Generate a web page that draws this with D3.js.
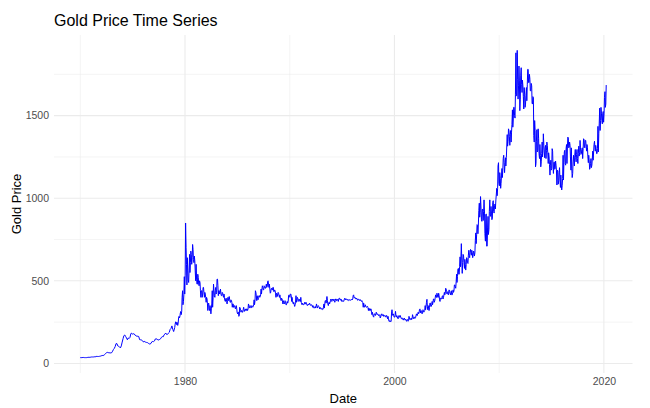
<!DOCTYPE html>
<html lang="en">
<head>
  <meta charset="UTF-8">
  <title>Gold Price Time Series</title>
  <style>
    body {
      margin: 0;
      background-color: #fff;
      font-family: 'Liberation Sans', Arial, sans-serif;
    }
    .grid-major { stroke: #ebebeb; stroke-width: 1.07px; }
    .grid-minor { stroke: #ebebeb; stroke-width: 0.55px; }
    .tick-label { font-size: 10.5px; fill: #4d4d4d; }
    .axis-title { font-size: 13px; fill: #000; }
    .title { font-size: 16px; fill: #000; }
    .price { fill: none; stroke: blue; stroke-width: 1px; stroke-linejoin: round; }
  </style>
  <script src="https://d3js.org/d3.v7.min.js"></script>
</head>
<body>
<svg width="650" height="408"></svg>
<script>
  // monthly prices 1970-01 .. 1978-12 (one value per month)
  const earlyStart = [1970, 0];
  const earlyPrice = [
    35, 35, 35, 36, 36, 35, 35, 35, 36, 37, 37, 37,
    38, 39, 39, 39, 40, 40, 41, 43, 42, 42, 43, 44,
    46, 48, 48, 49, 54, 59, 65, 67, 65, 65, 63, 64,
    65, 74, 84, 91, 102, 120, 120, 106, 103, 100, 94, 106,
    129, 150, 168, 172, 163, 154, 143, 154, 151, 158, 181, 183,
    176, 180, 178, 170, 167, 164, 165, 163, 144, 143, 142, 139,
    131, 131, 133, 128, 127, 126, 122, 118, 118, 121, 131, 133,
    132, 136, 148, 149, 147, 141, 143, 145, 149, 158, 162, 161,
    173, 178, 184, 175, 176, 183, 188, 206, 212, 227, 206, 193
  ];

  // daily data from 1979 on, kept as monthly low / high, 1979-01 .. 2020-03
  const dailyStart = [1979, 0];
  const monthLow = [
    218, 240, 235, 230, 245, 275, 285, 295, 315, 355, 375, 420,
    530, 600, 475, 505, 490, 550, 610, 600, 640, 630, 610, 560,
    500, 480, 480, 480, 470, 440, 400, 400, 420, 430, 400, 400,
    370, 360, 320, 330, 320, 300, 330, 340, 400, 410, 400, 420,
    430, 470, 410, 420, 430, 410, 410, 410, 400, 380, 375, 375,
    360, 380, 390, 370, 370, 370, 340, 340, 340, 330, 335, 310,
    300, 285, 290, 320, 310, 310, 310, 325, 315, 320, 320, 320,
    330, 335, 340, 335, 340, 340, 345, 355, 380, 410, 380, 385,
    400, 400, 405, 420, 450, 445, 445, 455, 455, 460, 465, 480,
    460, 425, 430, 445, 445, 435, 435, 425, 400, 405, 420, 410,
    400, 385, 380, 380, 360, 360, 370, 355, 355, 365, 375, 405,
    400, 410, 375, 365, 360, 345, 355, 370, 385, 375, 380, 375,
    375, 360, 355, 355, 355, 360, 360, 355, 350, 355, 355, 355,
    350, 350, 340, 335, 335, 335, 345, 335, 345, 340, 330, 330,
    328, 326, 328, 335, 360, 365, 385, 360, 350, 360, 370, 380,
    375, 380, 380, 370, 380, 380, 380, 375, 390, 385, 383, 375,
    375, 375, 380, 390, 385, 385, 383, 380, 382, 382, 383, 385,
    390, 400, 395, 390, 390, 383, 382, 385, 380, 378, 375, 368,
    340, 340, 345, 340, 340, 338, 320, 320, 320, 310, 295, 285,
    280, 295, 290, 300, 295, 290, 288, 275, 280, 290, 290, 285,
    285, 285, 280, 280, 270, 257, 253, 252, 255, 300, 290, 280,
    280, 290, 280, 275, 270, 280, 280, 272, 270, 265, 262, 268,
    262, 255, 257, 255, 260, 265, 265, 265, 270, 275, 270, 273,
    278, 290, 290, 300, 305, 318, 305, 300, 310, 310, 315, 325,
    345, 345, 325, 320, 340, 345, 345, 355, 370, 370, 380, 400,
    400, 400, 400, 385, 375, 390, 390, 390, 400, 415, 425, 435,
    420, 415, 425, 425, 415, 415, 415, 430, 440, 465, 455, 490,
    525, 540, 540, 585, 640, 545, 610, 610, 575, 565, 600, 610,
    605, 650, 640, 670, 655, 640, 655, 650, 670, 725, 780, 785,
    850, 885, 915, 870, 860, 865, 920, 785, 740, 710, 710, 780,
    810, 900, 890, 870, 880, 920, 910, 935, 990, 1015, 1060, 1090,
    1075, 1060, 1090, 1125, 1170, 1215, 1155, 1195, 1245, 1315, 1345, 1375,
    1320, 1340, 1400, 1430, 1480, 1500, 1485, 1620, 1620, 1600, 1680, 1530,
    1600, 1690, 1640, 1615, 1540, 1550, 1570, 1590, 1690, 1700, 1700, 1650,
    1650, 1575, 1570, 1380, 1340, 1190, 1210, 1280, 1290, 1270, 1240, 1190,
    1220, 1250, 1290, 1280, 1245, 1240, 1290, 1275, 1210, 1205, 1140, 1170,
    1180, 1195, 1150, 1175, 1180, 1165, 1080, 1085, 1105, 1110, 1065, 1050,
    1075, 1110, 1215, 1210, 1200, 1210, 1310, 1305, 1310, 1250, 1170, 1125,
    1150, 1215, 1195, 1245, 1220, 1240, 1210, 1255, 1275, 1265, 1270, 1240,
    1300, 1310, 1305, 1315, 1285, 1250, 1215, 1175, 1185, 1185, 1200, 1230,
    1280, 1305, 1285, 1270, 1270, 1280, 1390, 1410, 1470, 1470, 1450, 1460,
    1515, 1550, 1570
  ];
  const monthHigh = [
    237, 252, 250, 245, 275, 285, 305, 315, 400, 440, 415, 525,
    850, 700, 640, 560, 560, 660, 680, 660, 720, 690, 650, 620,
    600, 510, 540, 520, 500, 490, 440, 440, 460, 460, 430, 420,
    400, 390, 360, 365, 350, 330, 360, 440, 480, 440, 440, 460,
    510, 510, 440, 440, 450, 420, 430, 425, 420, 400, 390, 395,
    380, 400, 405, 385, 385, 380, 360, 360, 350, 345, 350, 335,
    310, 310, 340, 335, 320, 320, 325, 340, 325, 330, 330, 330,
    360, 350, 350, 345, 350, 345, 355, 385, 440, 430, 410, 395,
    410, 410, 415, 450, 470, 460, 470, 465, 465, 480, 495, 500,
    480, 450, 450, 455, 460, 460, 445, 440, 425, 420, 430, 425,
    415, 395, 395, 390, 380, 370, 380, 375, 365, 375, 410, 415,
    420, 420, 400, 380, 370, 355, 370, 410, 400, 395, 390, 385,
    400, 370, 365, 360, 360, 370, 370, 360, 355, 360, 365, 360,
    355, 355, 350, 340, 340, 345, 360, 345, 350, 345, 340, 335,
    333, 332, 340, 360, 380, 380, 405, 380, 365, 370, 380, 390,
    390, 385, 390, 380, 390, 390, 388, 385, 395, 395, 390, 385,
    380, 380, 390, 395, 390, 390, 388, 385, 386, 385, 387, 390,
    410, 415, 400, 395, 395, 390, 388, 390, 385, 385, 380, 375,
    365, 350, 355, 345, 345, 345, 335, 330, 330, 330, 310, 295,
    300, 300, 300, 310, 300, 298, 295, 290, 295, 300, 297, 295,
    290, 290, 290, 290, 285, 270, 260, 258, 305, 325, 300, 290,
    290, 315, 290, 285, 280, 290, 290, 280, 276, 273, 270, 275,
    268, 265, 265, 265, 285, 275, 270, 275, 295, 285, 280, 280,
    290, 300, 300, 310, 325, 330, 320, 315, 325, 320, 320, 350,
    370, 388, 350, 335, 365, 365, 355, 375, 390, 390, 397, 415,
    425, 415, 425, 410, 395, 395, 405, 410, 415, 430, 455, 450,
    430, 435, 445, 435, 430, 440, 430, 445, 475, 475, 495, 540,
    570, 575, 585, 645, 725, 620, 660, 650, 630, 600, 640, 635,
    655, 685, 670, 690, 685, 670, 680, 675, 745, 790, 840, 835,
    925, 970, 1010, 940, 930, 935, 990, 910, 900, 905, 820, 890,
    920, 990, 950, 910, 975, 985, 955, 965, 1020, 1060, 1195, 1215,
    1155, 1120, 1135, 1180, 1240, 1260, 1205, 1245, 1310, 1385, 1420, 1410,
    1385, 1410, 1445, 1535, 1550, 1550, 1630, 1880, 1895, 1720, 1800, 1710,
    1745, 1790, 1715, 1680, 1670, 1630, 1620, 1670, 1780, 1780, 1750, 1720,
    1695, 1680, 1615, 1610, 1470, 1410, 1345, 1415, 1420, 1360, 1325, 1260,
    1270, 1340, 1390, 1320, 1305, 1320, 1340, 1320, 1275, 1250, 1200, 1230,
    1300, 1285, 1215, 1220, 1225, 1200, 1170, 1165, 1155, 1185, 1140, 1080,
    1120, 1260, 1280, 1290, 1300, 1325, 1370, 1365, 1340, 1320, 1305, 1180,
    1220, 1260, 1260, 1295, 1265, 1295, 1270, 1315, 1350, 1305, 1295, 1305,
    1360, 1355, 1350, 1350, 1325, 1305, 1260, 1225, 1210, 1240, 1235, 1285,
    1325, 1345, 1320, 1300, 1300, 1435, 1450, 1545, 1550, 1515, 1510, 1525,
    1610, 1645, 1685
  ];

  const xBreaks = [1980, 2000, 2020];
  const xMinor = [1970, 1990, 2010];
  const yBreaks = [0, 500, 1000, 1500];
  const yMinor = [250, 750, 1250, 1750];

  // build the series
  const series = [];
  earlyPrice.forEach((v, i) => {
    series.push({ date: new Date(earlyStart[0], earlyStart[1] + i, 1), price: v });
  });
  monthLow.forEach((lo, i) => {
    const hi = monthHigh[i];
    const a = new Date(dailyStart[0], dailyStart[1] + i, 8);
    const b = new Date(dailyStart[0], dailyStart[1] + i, 22);
    if (i % 2 === 0) {
      series.push({ date: a, price: lo }, { date: b, price: hi });
    } else {
      series.push({ date: a, price: hi }, { date: b, price: lo });
    }
  });

  const svg = d3.select("svg");
  const panel = { left: 54, right: 632.5, top: 35, bottom: 373 };

  // ggplot style 5% expansion
  const xExt = d3.extent(series, d => d.date);
  const xPad = (xExt[1] - xExt[0]) * 0.05;
  const x = d3.scaleTime()
          .domain([new Date(+xExt[0] - xPad), new Date(+xExt[1] + xPad)])
          .range([panel.left, panel.right]);

  const yExt = d3.extent(series, d => d.price);
  const yPad = (yExt[1] - yExt[0]) * 0.05;
  const y = d3.scaleLinear()
          .domain([yExt[0] - yPad, yExt[1] + yPad])
          .range([panel.bottom, panel.top]);

  const yr = v => new Date(v, 0, 1);

  const grid = svg.append("g");
  grid.selectAll(".gx-minor").data(xMinor).enter().append("line")
          .attr("class", "grid-minor")
          .attr("x1", d => x(yr(d))).attr("x2", d => x(yr(d)))
          .attr("y1", panel.top).attr("y2", panel.bottom);
  grid.selectAll(".gy-minor").data(yMinor).enter().append("line")
          .attr("class", "grid-minor")
          .attr("x1", panel.left).attr("x2", panel.right)
          .attr("y1", d => y(d)).attr("y2", d => y(d));
  grid.selectAll(".gx-major").data(xBreaks).enter().append("line")
          .attr("class", "grid-major")
          .attr("x1", d => x(yr(d))).attr("x2", d => x(yr(d)))
          .attr("y1", panel.top).attr("y2", panel.bottom);
  grid.selectAll(".gy-major").data(yBreaks).enter().append("line")
          .attr("class", "grid-major")
          .attr("x1", panel.left).attr("x2", panel.right)
          .attr("y1", d => y(d)).attr("y2", d => y(d));

  // price line
  const line = d3.line()
          .x(d => x(d.date))
          .y(d => y(d.price));

  svg.append("path")
          .datum(series)
          .attr("class", "price")
          .attr("d", line);

  // axes (labels only, no ticks or domain line, like theme_minimal)
  const xAxis = svg.append("g")
          .attr("transform", `translate(0,${panel.bottom})`)
          .call(d3.axisBottom(x).tickValues(xBreaks.map(yr)).tickSize(0).tickPadding(5)
                  .tickFormat(d3.timeFormat("%Y")));
  xAxis.select(".domain").remove();
  xAxis.selectAll("text").attr("class", "tick-label").attr("fill", null)
          .attr("font-family", null).attr("font-size", null);

  const yAxis = svg.append("g")
          .attr("transform", `translate(${panel.left},0)`)
          .call(d3.axisLeft(y).tickValues(yBreaks).tickSize(0).tickPadding(5)
                  .tickFormat(d3.format("d")));
  yAxis.select(".domain").remove();
  yAxis.selectAll("text").attr("class", "tick-label").attr("fill", null)
          .attr("font-family", null).attr("font-size", null);
  svg.selectAll(".tick-label").style("font-family", "'Liberation Sans', Arial, sans-serif");

  svg.append("text")
          .attr("class", "title")
          .attr("x", panel.left)
          .attr("y", 26)
          .text("Gold Price Time Series");

  svg.append("text")
          .attr("class", "axis-title")
          .attr("x", (panel.left + panel.right) / 2)
          .attr("y", 403)
          .attr("text-anchor", "middle")
          .text("Date");

  svg.append("text")
          .attr("class", "axis-title")
          .attr("transform", `translate(21,${(panel.top + panel.bottom) / 2}) rotate(-90)`)
          .attr("text-anchor", "middle")
          .text("Gold Price");
</script>
</body>
</html>
